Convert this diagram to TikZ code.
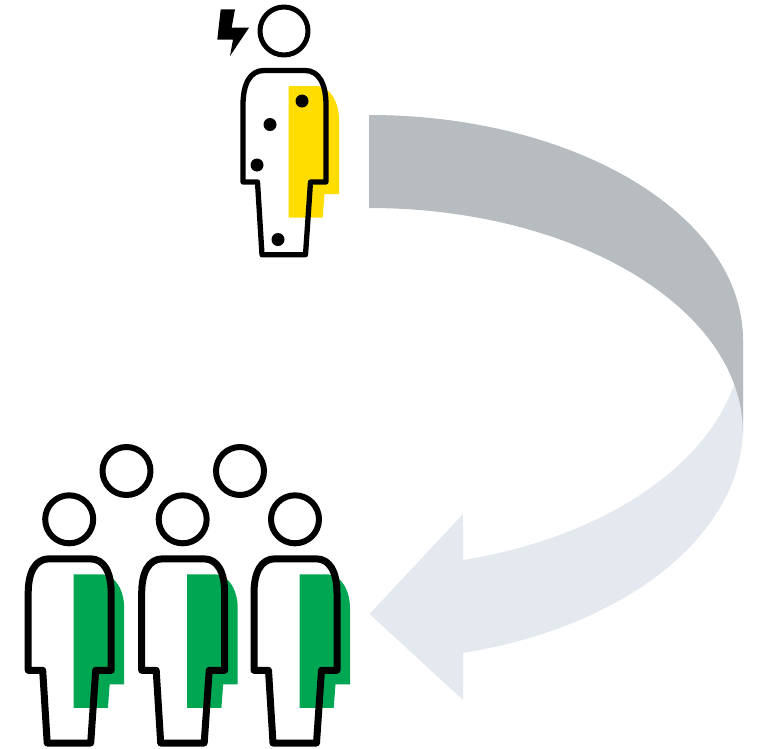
\documentclass[tikz,border=0pt]{standalone}
\definecolor{band}{HTML}{B7BCC0}
\definecolor{bandlight}{HTML}{E4E9F0}
\definecolor{yel}{HTML}{FFDD00}
\definecolor{grn}{HTML}{00A651}
\tikzset{
  outline/.style={draw=black,line join=round},
  dotmark/.style={fill=black},
  pics/figure/.style n args={4}{code={
    \fill[#1] (288.5,86) -- (317,86) .. controls (331,87) and (339,103) .. (339,120)
      -- (339,{194+#4}) -- (324.5,{194+#4}) -- (322.7,{217.5+#4}) -- (288.5,{217.5+#4}) -- cycle;
    \draw[outline,line width=#2] (243,105) .. controls (243,84) and (250,70.5) .. (264,70.5)
      -- (305,70.5) .. controls (319,70.5) and (326,84) .. (326,105)
      -- (326,182) -- (310.5,182) -- (305.5,254.7) -- (262,254.7) -- (257.5,182)
      -- (243,182) -- cycle;
    \draw[outline,line width=#3] (284,31) circle (24);
  }}
}
\newcommand{\bighead}[2]{\draw[outline,line width=6pt] (#1,#2) circle (24);}
\begin{document}
\begin{tikzpicture}[x=1pt,y=-1pt]
\useasboundingbox (0,0) rectangle (758,748);
% curved arrow
\fill[bandlight] (743,334) .. controls (743,440.4) and (627.9,533.3) .. (463,560)
  -- (463,514) -- (369.5,614) -- (463,700) -- (463,653)
  .. controls (627.9,626.3) and (743,533.4) .. (743,427) -- cycle;
\fill[band] (369,115) .. controls (575.6,115) and (743,215.7) .. (743,340)
  -- (743,433) .. controls (743,308.7) and (575.6,208) .. (369,208) -- cycle;
% single figure
\pic {figure={yel}{5.3pt}{5pt}{0}};
\foreach \px/\py in {302/101,270/124.5,257/165,278/239.5}
  \fill[dotmark] (\px,\py) circle (6.5);
\fill[black] (220.7,9.3) -- (235,9.3) -- (231.7,27.5) -- (249,27.7) -- (230,56)
  -- (233,39.5) -- (217.3,39.5) -- cycle;
% group
\pic[shift={(-214.8,488.3)}] {figure={grn}{7pt}{6pt}{2}};
\pic[shift={(-101.3,488.3)}] {figure={grn}{7pt}{6pt}{2}};
\pic[shift={(11,488.3)}] {figure={grn}{7pt}{6pt}{2}};
\bighead{126.5}{471}
\bighead{240}{471}
\end{tikzpicture}
\end{document}
